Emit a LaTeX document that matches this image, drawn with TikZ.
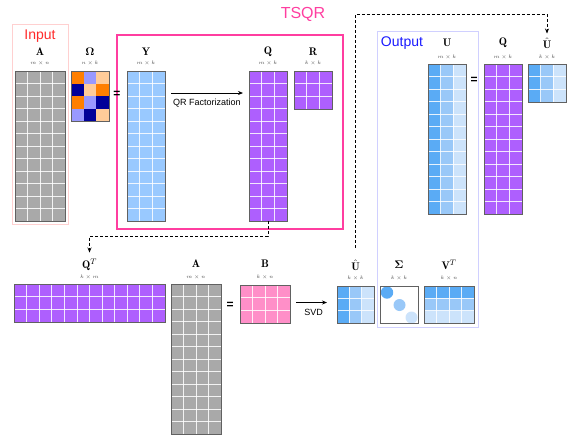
\documentclass[tikz,border=0pt]{standalone}
\usepackage{amsmath}
\usepackage{fontspec}
\setsansfont{Liberation Sans}
\usetikzlibrary{calc,fit,arrows.meta}

\definecolor{mgray}{HTML}{A9A9A9}
\definecolor{mblue}{HTML}{99C9FF}
\definecolor{mpurple}{HTML}{AE5FFE}
\definecolor{mpink}{HTML}{FF8FC8}
\definecolor{ua}{HTML}{5AABF5}
\definecolor{ub}{HTML}{99C8F8}
\definecolor{uc}{HTML}{CCE3FB}
\definecolor{omor}{HTML}{FF7F00}
\definecolor{ompw}{HTML}{9999FF}
\definecolor{ompc}{HTML}{FFCC99}
\definecolor{omnv}{HTML}{000099}
\definecolor{tsqrpink}{HTML}{FF3EA0}
\definecolor{inred}{HTML}{FF2A2A}
\definecolor{inframe}{HTML}{FFD0D0}
\definecolor{outblue}{HTML}{1A1AFF}
\definecolor{outframe}{HTML}{D0D0FF}

% a named rectangle for a matrix, given its left, top, right and bottom edges
\newcommand\mkmat[5]{%
  \coordinate (#1-a) at (#2,#3);
  \coordinate (#1-b) at (#4,#5);
  \node[fit=(#1-a)(#1-b), inner sep=0pt, outer sep=0pt] (#1) {};
}
\newcommand\mfill[2]{\fill[#2] (#1.north west) rectangle (#1.south east);}
% fill by columns / rows: name, count, colour list
\newcommand\mcols[3]{%
  \foreach \cl [count=\ix] in {#3}
    \fill[\cl] ($(#1.north west)!{(\ix-1)/#2}!(#1.north east)$) rectangle ($(#1.south west)!{\ix/#2}!(#1.south east)$);
}
\newcommand\mrows[3]{%
  \foreach \cl [count=\ix] in {#3}
    \fill[\cl] ($(#1.north west)!{(\ix-1)/#2}!(#1.south west)$) rectangle ($(#1.north east)!{\ix/#2}!(#1.south east)$);
}
% white cell grid and outer border: name, columns, rows
\newcommand\mgrid[3]{%
  \pgfmathtruncatemacro\gnc{#2-1}%
  \pgfmathtruncatemacro\gnr{#3-1}%
  \foreach \ix in {1,...,\gnc}
    \draw[gridline] ($(#1.north west)!{\ix/#2}!(#1.north east)$) -- ($(#1.south west)!{\ix/#2}!(#1.south east)$);
  \foreach \ix in {1,...,\gnr}
    \draw[gridline] ($(#1.north west)!{\ix/#3}!(#1.south west)$) -- ($(#1.north east)!{\ix/#3}!(#1.south east)$);
  \draw[matborder] (#1.north west) rectangle (#1.south east);
}

\tikzset{
  matborder/.style={draw=black!62, line width=0.8pt},
  gridline/.style={draw=white, line width=0.7pt, opacity=0.85},
  lab/.style={inner sep=0pt, font=\fontsize{11}{12}\selectfont},
  dimlab/.style={inner sep=0pt, font=\fontsize{5.5}{6}\selectfont, text=black!70},
  eqsign/.style={inner sep=0pt, font=\sffamily\bfseries\fontsize{12}{13}\selectfont},
  sanslab/.style={inner sep=0pt, font=\sffamily\fontsize{9}{10}\selectfont},
  flow/.style={-{Stealth[length=5pt,width=4pt]}, line width=0.8pt},
  link/.style={dashed, dash pattern=on 3pt off 2pt, -{Stealth[length=5pt,width=4pt]}, line width=0.7pt},
}

\begin{document}
\begin{tikzpicture}[x=1pt, y=-1pt]
\useasboundingbox (0,0) rectangle (569,440);

% ---------- frames ----------
\node[fit={(12,24)(68,224)}, inner sep=0pt, draw=inframe, line width=1pt] (inbox) {};
\node[fit={(117,35)(343,229)}, inner sep=0pt, draw=tsqrpink, line width=2pt] (tsqrbox) {};
\node[fit={(377,31)(478,327)}, inner sep=0pt, draw=outframe, line width=1pt] (outbox) {};
\node[inner sep=0pt, text=inred, font=\sffamily\fontsize{14}{15}\selectfont] (intitle) at (40,36) {Input};
\node[inner sep=0pt, text=tsqrpink, font=\sffamily\fontsize{16}{17}\selectfont] (tsqrtitle) at (303,14) {TSQR};
\node[inner sep=0pt, text=outblue, font=\sffamily\fontsize{14}{15}\selectfont] (outtitle) at (402,43) {Output};

% ---------- top row ----------
\mkmat{A1}{15}{71}{65}{221}
\mfill{A1}{mgray}\mgrid{A1}{4}{12}
\node[lab] (A1lab) at (40,52) {$\mathbf{A}$};
\node[dimlab] (A1dim) at (40,63.5) {$m\times n$};

\mkmat{Om}{71}{71}{109}{121}
\foreach \cx/\ry/\cl in {0/0/omor,1/0/ompw,2/0/ompc,
                         0/1/omnv,1/1/ompc,2/1/omor,
                         0/2/omor,1/2/ompw,2/2/omnv,
                         0/3/ompw,1/3/omnv,2/3/ompc}
  \fill[\cl] ($(Om.north west)+(\cx*38/3,\ry*12.5)$) rectangle ++(38/3,12.5);
\draw[matborder] (Om.north west) rectangle (Om.south east);
\node[lab] (Omlab) at (90,52) {$\boldsymbol{\Omega}$};
\node[dimlab] (Omdim) at (90,63.5) {$n\times k$};

\node[eqsign] (eq1) at (117,94) {=};

\mkmat{Y}{127}{71}{165}{221}
\mfill{Y}{mblue}\mgrid{Y}{3}{12}
\node[lab] (Ylab) at (146,52) {$\mathbf{Y}$};
\node[dimlab] (Ydim) at (146,63.5) {$m\times k$};

\mkmat{Q1}{249}{71}{287}{221}
\mfill{Q1}{mpurple}\mgrid{Q1}{3}{12}
\node[lab] (Q1lab) at (268,52) {$\mathbf{Q}$};
\node[dimlab] (Q1dim) at (268,63.5) {$m\times k$};

\mkmat{R}{294}{71}{332}{109}
\mfill{R}{mpurple}\mgrid{R}{3}{3}
\node[lab] (Rlab) at (313,52) {$\mathbf{R}$};
\node[dimlab] (Rdim) at (313,63.5) {$k\times k$};

\draw[flow] ($(Y.north east)+(6,22)$) -- ($(Q1.north west)+(-6,22)$)
  node[midway, below=6pt, sanslab] (qrlab) {QR Factorization};

% ---------- output: U = Q U-hat ----------
\mkmat{U}{428}{64}{466}{214}
\mcols{U}{3}{ua,ub,uc}\mgrid{U}{3}{12}
\node[lab] (Ulab) at (447,43) {$\mathbf{U}$};
\node[dimlab] (Udim) at (447,57) {$m\times k$};

\node[eqsign] (eq2) at (474,80) {=};

\mkmat{Q2}{484}{64}{522}{214}
\mfill{Q2}{mpurple}\mgrid{Q2}{3}{12}
\node[lab] (Q2lab) at (503,43) {$\mathbf{Q}$};
\node[dimlab] (Q2dim) at (503,57) {$m\times k$};

\mkmat{Uh1}{528}{64}{566}{102}
\mcols{Uh1}{3}{ua,ub,uc}\mgrid{Uh1}{3}{3}
\node[lab] (Uh1lab) at (547,43) {$\hat{\mathbf{U}}$};
\node[dimlab] (Uh1dim) at (547,57) {$k\times k$};

% ---------- bottom row ----------
\mkmat{QT}{14}{284}{165}{322}
\mfill{QT}{mpurple}\mgrid{QT}{12}{3}
\node[lab] (QTlab) at (89.5,264.5) {$\mathbf{Q}^T$};
\node[dimlab] (QTdim) at (89.5,277.5) {$k\times m$};

\mkmat{A2}{171}{284}{221}{434}
\mfill{A2}{mgray}\mgrid{A2}{4}{12}
\node[lab] (A2lab) at (196,264) {$\mathbf{A}$};
\node[dimlab] (A2dim) at (196,277) {$m\times n$};

\node[eqsign] (eq3) at (230,305) {=};

\mkmat{B}{240}{285}{290}{323}
\mfill{B}{mpink}\mgrid{B}{4}{3}
\node[lab] (Blab) at (265,264) {$\mathbf{B}$};
\node[dimlab] (Bdim) at (265,277) {$k\times n$};

\mkmat{Uh2}{337}{286}{374}{323}
\mcols{Uh2}{3}{ua,ub,uc}\mgrid{Uh2}{3}{3}
\node[lab] (Uh2lab) at (355.5,265) {$\hat{\mathbf{U}}$};
\node[dimlab] (Uh2dim) at (355.5,278) {$k\times k$};

\mkmat{S}{380}{286}{418}{323}
\mfill{S}{white}
\begin{scope}
  \clip (S.north west) rectangle (S.south east);
  \fill[ua] (387,292.5) circle[radius=6.2pt];
  \fill[ub] (399.5,305) circle[radius=6pt];
  \fill[uc] (411.5,317.5) circle[radius=6pt];
\end{scope}
\draw[matborder] (S.north west) rectangle (S.south east);
\node[lab] (Slab) at (399,265) {$\boldsymbol{\Sigma}$};
\node[dimlab] (Sdim) at (399,278) {$k\times k$};

\mkmat{VT}{424}{286}{474}{323}
\mrows{VT}{3}{ua,ub,uc}\mgrid{VT}{4}{3}
\node[lab] (VTlab) at (449,265) {$\mathbf{V}^T$};
\node[dimlab] (VTdim) at (449,278) {$k\times n$};

\draw[flow, shorten <=6pt, shorten >=10pt] ([yshift=1.5pt]B.east) -- ([yshift=1.5pt]B.east -| Uh2.west)
  node[midway, below=6pt, sanslab] (svdlab) {SVD};

% ---------- dashed hand-offs ----------
\draw[link, shorten >=6pt] (Q1.south) -- ++(0,15) -| (QTlab.north);
\draw[link, shorten >=4pt] ($(Uh2lab.north)+(0,-12)$) -- ($(Uh2lab.north |- tsqrtitle.center)$) -| (Uh1lab.north);
\end{tikzpicture}
\end{document}
